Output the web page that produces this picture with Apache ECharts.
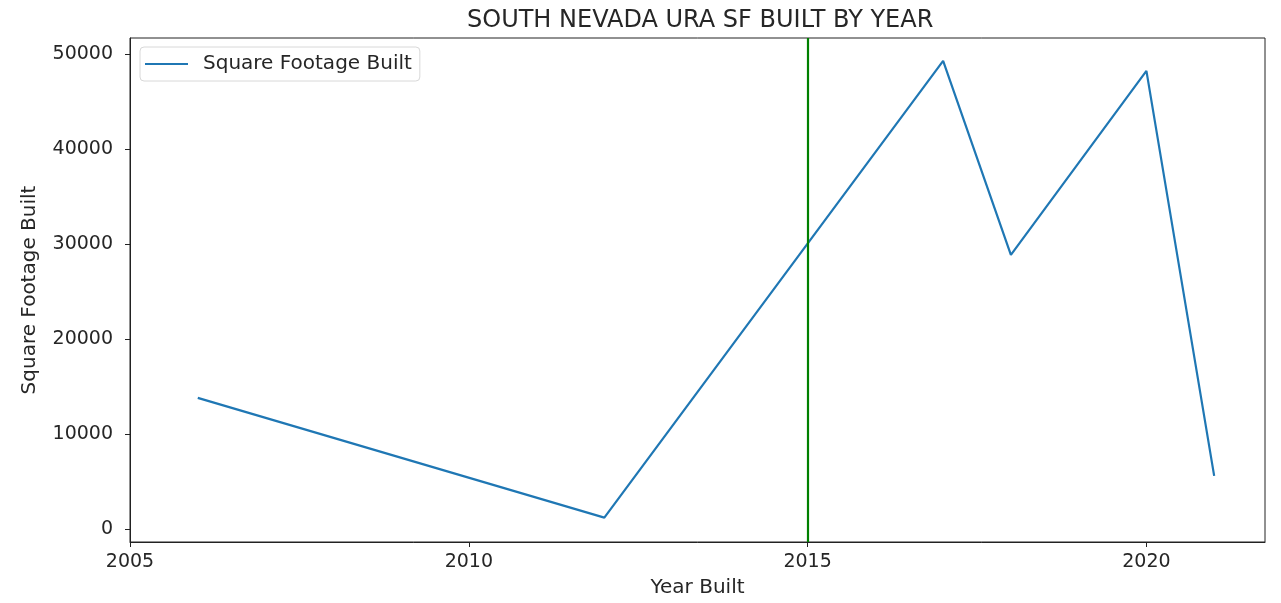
<!DOCTYPE html>
<html>
	<head>
		<meta charset="UTF-8">
		<title>South Nevada URA SF built by year</title>
		<script src="https://cdn.jsdelivr.net/npm/echarts@6/dist/echarts.min.js"></script>
		<style>
			html, body { margin: 0; padding: 0; background: #fff; }
			#chart { width: 1281px; height: 603px; }
		</style>
	</head>
	<body>
		<div id="chart"></div>
		<script>
			// 数据
			var years = [2006, 2012, 2017, 2018, 2020, 2021];
			var sqft = [13850, 1250, 49300, 28900, 48250, 5650];
			var xTicks = [2005, 2010, 2015, 2020];
			var yTicks = [0, 10000, 20000, 30000, 40000, 50000];
			var markYear = 2015;

			var points = [];
			for (var i = 0; i < years.length; i++) {
				points.push([years[i], sqft[i]]);
			}

			var myChart = echarts.init(document.getElementById('chart'));
			var font = 'DejaVu Sans';
			var textColor = '#262626';

			// 不要千位分隔符
			function plain(v) { return String(v); }

			var option = {
				backgroundColor: '#fff',
				animation: false,
				// 标题居中于绘图区，而不是整个画布
				title: {
					text: 'SOUTH NEVADA URA SF BUILT BY YEAR',
					left: 462,
					top: 4,
					textStyle: { fontFamily: font, fontSize: 24, fontWeight: 'normal', color: textColor }
				},
				legend: {
					left: 140,
					top: 47,
					data: [{ name: 'Square Footage Built', icon: 'rect' }],
					itemWidth: 43,
					itemHeight: 2,
					padding: [7, 8, 7, 5],
					borderColor: '#d8d8d8',
					borderWidth: 1,
					borderRadius: 4,
					backgroundColor: '#fff',
					textStyle: { fontFamily: font, fontSize: 20, color: textColor, padding: [0, 0, 0, 10] }
				},
				grid: {
					left: 130,
					right: 16,
					top: 38,
					bottom: 58,
					show: true,
					borderColor: '#222',
					borderWidth: 1
				},
				xAxis: {
					type: 'value',
					min: 2005,
					max: 2021.75,
					name: 'Year Built',
					nameLocation: 'middle',
					nameGap: 36,
					nameTextStyle: { fontFamily: font, fontSize: 20, color: textColor },
					axisLine: { show: true, onZero: false, lineStyle: { color: '#222' } },
					axisTick: { show: true, length: 5, customValues: xTicks, lineStyle: { color: '#222' } },
					axisLabel: {
						customValues: xTicks, margin: 11, formatter: plain,
						fontFamily: font, fontSize: 19, color: textColor
					},
					splitLine: { show: false }
				},
				yAxis: {
					type: 'value',
					min: -1310,
					max: 51710,
					name: 'Square Footage Built',
					nameLocation: 'middle',
					nameGap: 90,
					nameTextStyle: { fontFamily: font, fontSize: 20, color: textColor },
					axisLine: { show: true, onZero: false, lineStyle: { color: '#222' } },
					axisTick: { show: true, length: 5, customValues: yTicks, lineStyle: { color: '#222' } },
					axisLabel: {
						customValues: yTicks, margin: 17, formatter: plain,
						fontFamily: font, fontSize: 19, color: textColor
					},
					splitLine: { show: false }
				},
				series: [{
					name: 'Square Footage Built',
					type: 'line',
					data: points,
					symbol: 'none',
					lineStyle: { color: '#1f77b4', width: 2.2 },
					itemStyle: { color: '#1f77b4' },
					markLine: {
						silent: true,
						symbol: 'none',
						label: { show: false },
						lineStyle: { color: '#008000', width: 2.2, type: 'solid' },
						data: [{ xAxis: markYear }]
					}
				}]
			};

			myChart.setOption(option);
		</script>
	</body>
</html>
